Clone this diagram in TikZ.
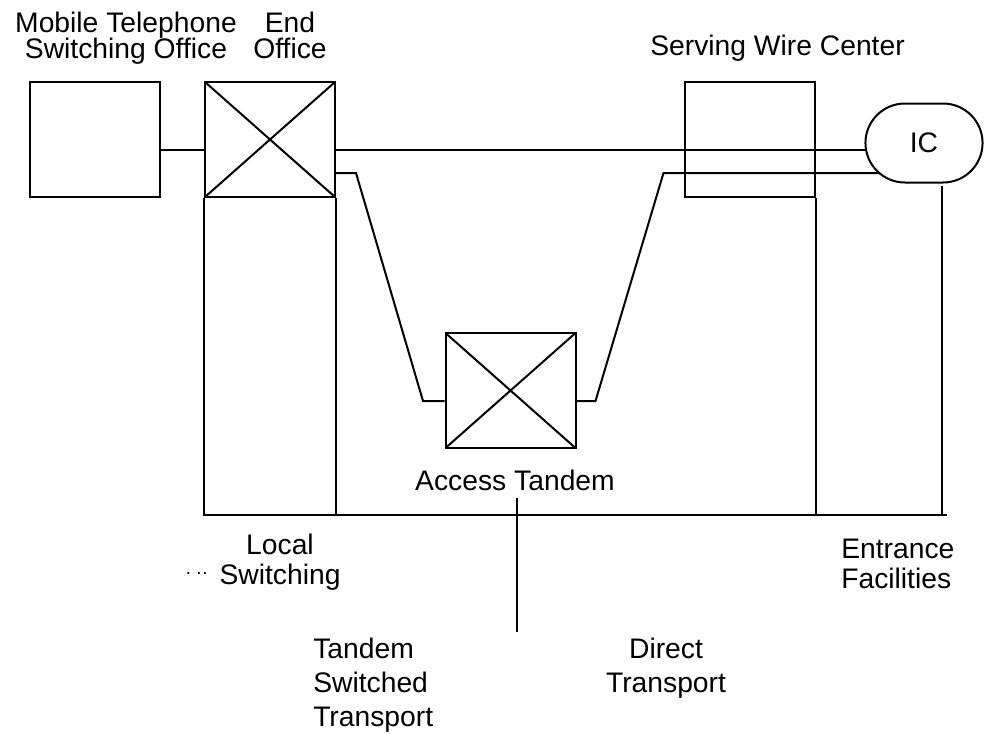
\documentclass[tikz,border=0pt]{standalone}
\usepackage{fontspec}
\setmainfont{Liberation Sans}
\usetikzlibrary{shapes.misc}
\pgfdeclarelayer{bg}
\pgfsetlayers{bg,main}
\newcommand\lblfont[1]{\fontsize{21.2}{#1}\selectfont\lineskiplimit=-30pt}
\tikzset{
  office/.style={draw,minimum width=97.5pt,minimum height=86.25pt,inner sep=0pt},
  switch/.style={office,path picture={
    \draw (path picture bounding box.north west)--(path picture bounding box.south east)
          (path picture bounding box.south west)--(path picture bounding box.north east);}},
  carrier/.style={draw,fill=white,rounded rectangle,minimum width=94.5pt,minimum height=59.25pt,font=\lblfont{24pt}},
  trunk/.style={line width=1.5pt},
  lbl/.style={inner sep=0pt,font=\lblfont{#1}},
  lbl/.default=19.5pt
}
\begin{document}
\begin{tikzpicture}[x=0.75pt,y=-0.75pt,line width=1.5pt]
\useasboundingbox (0,0) rectangle (988,733);
\coordinate (hi) at (0,150);
\coordinate (lo) at (0,173);
\coordinate (mid) at (0,401);
\coordinate (base) at (0,515);
% offices
\node[office] (mtso) at (95,139.5) {};
\node[switch] (eo) at (270,139.5) {};
\node[office] (swc) at (750,139.5) {};
\node[switch] (at) at (510.5,390.5) {};
\node[carrier] (ic) at (924,143) {IC};
% trunks
\begin{pgfonlayer}{bg}
\draw[trunk] (mtso.east |- hi) -- (eo.west |- hi);
\draw[trunk] (eo.east |- hi) -- (ic.center |- hi);
\draw[trunk] (eo.east |- lo) -- ++(20,0) -- ++(67,228) -- (at.west |- mid);
\draw[trunk] (at.east |- mid) -- ++(19,0) -- ++(68,-228) -- (ic.center |- lo);
\end{pgfonlayer}
% rate elements
\draw[trunk] ([xshift=13.5pt,yshift=-2pt]ic.south) coordinate (icfoot) -- (icfoot |- base);
\draw[trunk] (eo.south west) -- (eo.south west |- base) -- ([xshift=4pt]icfoot |- base);
\draw[trunk] (eo.south east) -- (eo.south east |- base);
\draw[trunk] (swc.south east) -- (swc.south east |- base);
% labels (base = last line)
\node[lbl,align=center,anchor=base] (mtsolbl) at (126,58) {Mobile Telephone\\Switching Office};
\node[lbl,align=center,anchor=base] (eolbl) at (290,58) {End\\Office};
\node[lbl,anchor=base west] (swclbl) at (650,55) {Serving Wire Center};
\node[lbl,anchor=base] (atlbl) at (515,490) {Access Tandem};
\draw[trunk] ([xshift=1.5pt,yshift=-6pt]atlbl.base) -- ++(0,134);
\node[lbl=22.5pt,align=center,anchor=base] (lslbl) at (280,584)
  {Local\\\llap{\raisebox{7pt}{\fontsize{14}{14}\selectfont.\hspace{4pt}.\hspace{0.5pt}.}\hspace{9pt}}Switching};
\node[lbl=25.5pt,align=left,anchor=base west] (tstlbl) at (313,726) {Tandem\\Switched\\Transport};
\node[lbl=25.5pt,align=center,anchor=base] (dtlbl) at (666,692) {Direct\\Transport};
\node[lbl=22.5pt,align=left,anchor=base west] (eflbl) at (841,588) {Entrance\\Facilities};
\end{tikzpicture}
\end{document}
